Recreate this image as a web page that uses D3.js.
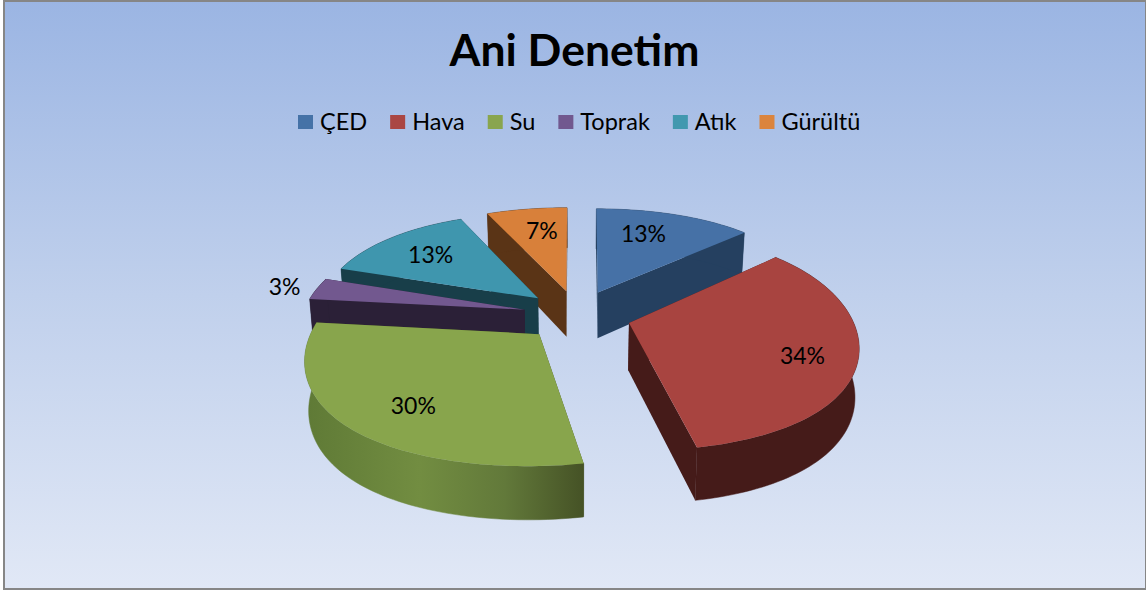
<!DOCTYPE html>
<html><head><meta charset="utf-8">
<script src="https://cdn.jsdelivr.net/npm/d3@7/dist/d3.min.js"></script>
<style>html,body{margin:0;padding:0;background:#fff}svg{display:block}text{font-family:Lato,"Open Sans",sans-serif;fill:#000}</style>
</head><body><svg id="c" width="1146" height="592"></svg>
<script>
const title = "Ani Denetim";
const categories = ["ÇED","Hava","Su","Toprak","Atık","Gürültü"];
const values = [13,34,29.7,3.4,13.4,6.5];
const topColors = ["#4671a6","#a84440","#88a54c","#72588f","#3f96ae","#d8803a"];
const sideColors = ["#254060","#451b19","url(#greenSide)","#2b2037","#183e49","#5a3416"];
const legendColors = ["#4572a7","#aa4643","#89a54e","#71588f","#4198af","#db843d"];
const labelRadius = [0.72,0.775,0.74,1.16,0.72,0.72];
const labelTurnDeg = [-3.5,3,-3,0,0,1.3];
const drawOrder = [5,0,4,3,1,2];

const W=1146,H=592;
const svg=d3.select("#c");
const defs=svg.append("defs");
const bg=defs.append("linearGradient").attr("id","bg").attr("x1",0).attr("y1",0).attr("x2",0).attr("y2",1);
bg.append("stop").attr("offset",0).attr("stop-color","#9bb5e3");
bg.append("stop").attr("offset",0.5).attr("stop-color","#c0d0ec");
bg.append("stop").attr("offset",1).attr("stop-color","#e1e8f6");
const gs=defs.append("linearGradient").attr("id","greenSide").attr("gradientUnits","userSpaceOnUse")
  .attr("x1",306).attr("y1",0).attr("x2",590).attr("y2",0);
[[0,"#5f7a36"],[0.4,"#728d41"],[0.7,"#62793a"],[1,"#434f24"]].forEach(d=>gs.append("stop").attr("offset",d[0]).attr("stop-color",d[1]));

svg.append("rect").attr("x",4).attr("y",1).attr("width",W-4).attr("height",588).attr("fill","url(#bg)").attr("stroke","#868686").attr("stroke-width",2);

svg.append("text").attr("x",574.5).attr("y",66).attr("text-anchor","middle").attr("font-size",44.5).attr("font-weight",700).text(title);

// legend flow
const lg=svg.append("g");
let lx=298; const gap=23;
categories.forEach((c,i)=>{
  lg.append("rect").attr("x",lx).attr("y",115).attr("width",15).attr("height",14).attr("fill",legendColors[i]);
  const t=lg.append("text").attr("x",lx+22).attr("y",130).attr("font-size",23.5).text(c);
  lx+=22+t.node().getComputedTextLength()+gap;
});

// 3D pie
const cx=577,cy=315,R=222,E=54,depth=47,k=0.468,ay=0.161;
const slices=d3.pie().sort(null).value(d=>d)(values);
function proj(u,v,bottom){ // u right, v toward viewer, plane px
  const n=v/R;
  const wx=1-0.155*n-0.055*n*n, wy=1-ay*n;
  let x=u/wx, y=k*v/wy;
  if(bottom){ x*=0.985; y+=depth*(1+0.12*n); }
  return [cx+x, cy+y];
}
const line=d3.line();
function arcPts(s,h){
  const mid=(s.startAngle+s.endAngle)/2, ox=E*Math.sin(mid), oy=-E*Math.cos(mid);
  const n=Math.max(4,Math.ceil((s.endAngle-s.startAngle)*40));
  return d3.range(n+1).map(i=>{const t=s.startAngle+(s.endAngle-s.startAngle)*i/n;
    return proj(ox+R*Math.sin(t),oy-R*Math.cos(t),h);});
}
function apex(s,h){const mid=(s.startAngle+s.endAngle)/2;return proj(E*Math.sin(mid),-E*Math.cos(mid),h);}
const pie=svg.append("g");
drawOrder.forEach(i=>{
  const s=slices[i];
  const topA=arcPts(s,false), botA=arcPts(s,true);
  const g=pie.append("g");
  [topA[0],topA[topA.length-1]].forEach((p,j)=>{
    const q=j?botA[botA.length-1]:botA[0];
    g.append("path").attr("d",line([apex(s,false),p,q,apex(s,true)])+"Z").attr("fill",i===2?"#434f24":sideColors[i]);
  });
  g.append("path").attr("d",line(topA.concat(botA.slice().reverse()))+"Z").attr("fill",sideColors[i]).attr("stroke",sideColors[i]).attr("stroke-width",.5);
  g.append("path").attr("d",line([apex(s,false)].concat(topA))+"Z").attr("fill",topColors[i]);
});
slices.forEach((s,i)=>{
  const mid=(s.startAngle+s.endAngle)/2+labelTurnDeg[i]*Math.PI/180, r=E+R*labelRadius[i];
  const p=proj(r*Math.sin(mid),-r*Math.cos(mid),false);
  svg.append("text").attr("x",p[0]).attr("y",p[1]).attr("text-anchor","middle").attr("dominant-baseline","central").attr("font-size",23).text(Math.round(values[i])+"%");
});
</script></body></html>
